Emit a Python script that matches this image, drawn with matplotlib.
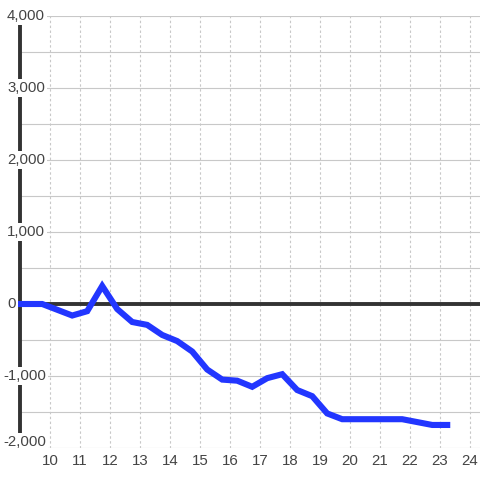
import matplotlib
matplotlib.use("Agg")
import matplotlib.pyplot as plt
import matplotlib.transforms as mtransforms

plt.rcParams['font.family'] = ['Liberation Sans', 'DejaVu Sans']

# ---- data ----
x_vals = [9.0, 9.74, 10.24, 10.74, 11.24, 11.74, 12.24, 12.74, 13.24, 13.74,
          14.24, 14.74, 15.24, 15.74, 16.24, 16.74, 17.24, 17.74, 18.24, 18.74,
          19.24, 19.74, 20.24, 20.74, 21.24, 21.74, 22.24, 22.74, 23.24]
y_vals = [0, 0, -80, -160, -100, 250, -70, -250, -290, -430,
          -515, -660, -910, -1050, -1065, -1150, -1030, -975, -1195, -1280,
          -1520, -1600, -1600, -1600, -1600, -1600, -1640, -1680, -1680]
x_ticks = list(range(10, 25))
x_tick_labels = [str(t) for t in x_ticks]
y_ticks = [-2000, -1000, 0, 1000, 2000, 3000, 4000]
y_tick_labels = ["-2,000", "-1,000", "0", "1,000", "2,000", "3,000", "4,000"]
y_grid = [-2000, -1500, -1000, -500, 0, 500, 1000, 1500, 2000, 2500, 3000, 3500, 4000]

W = H = 480
fig = plt.figure(figsize=(4.8, 4.8), dpi=100)
fig.patch.set_facecolor('white')
ax = fig.add_axes([20 / W, 32 / H, 460 / W, 432 / H])
ax.set_facecolor('white')
ax.set_xlim(9.0, 24.333)
ax.set_ylim(-2000, 4000)

for s in ['top', 'right', 'bottom']:
    ax.spines[s].set_visible(False)
ax.spines['left'].set_color('#333333')
ax.spines['left'].set_linewidth(2.8)
ax.spines['left'].set_zorder(2.6)

# grids
ax.set_yticks(y_grid)
ax.set_yticklabels([])
ax.tick_params(axis='y', length=0)
ax.yaxis.grid(True, color='#c8c8c8', linewidth=0.8, linestyle='-')
ax.set_xticks(x_ticks)
ax.set_xticklabels(x_tick_labels, fontsize=10.8, color='#444444')
ax.tick_params(axis='x', length=0, pad=4)
ax.xaxis.grid(True, color='#c8c8c8', linewidth=0.8, linestyle=(0, (2.2, 2.2)))
ax.set_axisbelow(True)

# zero line
ax.axhline(0, color='#333333', linewidth=2.8, zorder=2.5)

# data line
ax.plot(x_vals, y_vals, color='#2236ff', linewidth=4.4,
        solid_capstyle='projecting', solid_joinstyle='miter', zorder=4, clip_on=False)

# y labels with white background
trans = mtransforms.blended_transform_factory(fig.transFigure, ax.transData)
for v, lab in zip(y_ticks, y_tick_labels):
    xp = 3 / W if lab.startswith('-') else 7 / W
    yp = v
    if v == -2000:
        yp = v + 6 * 6000 / 432
    ax.text(xp, yp, lab, transform=trans, ha='left', va='center',
            fontsize=10.8, color='#444444', zorder=5,
            bbox=dict(facecolor='white', edgecolor='none', pad=1.5))

fig.savefig('out.png', dpi=100, facecolor='white')
